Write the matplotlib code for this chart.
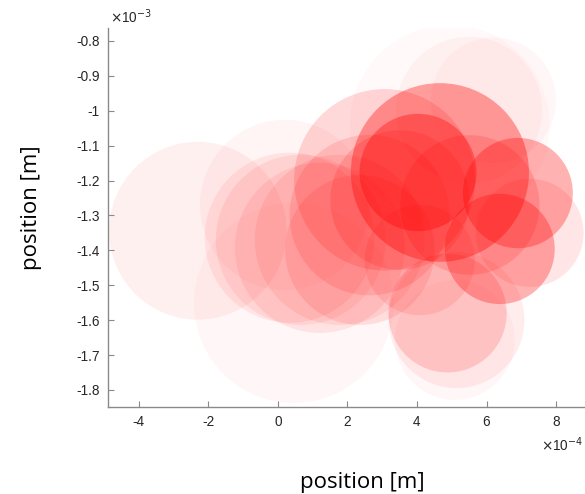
import matplotlib
matplotlib.use('Agg')
import matplotlib.pyplot as plt
from matplotlib.patches import Circle
from matplotlib.ticker import FixedLocator, FuncFormatter

# circle centres / radii in units of 1e-4 m, and opacity of each
cx = [-2.30, 0.46, 0.20, 0.34, 0.66, 1.21, 1.78, 3.07, 2.64, 4.66, 4.03, 3.51,
      6.90, 6.38, 4.88, 5.14, 5.09, 5.50, 6.20, 4.94, 7.24, 5.52, 2.36, 4.08]
cy = [-13.44, -15.51, -12.70, -13.64, -13.70, -13.93, -13.70, -11.98, -12.99, -11.77, -11.77, -12.56,
      -12.36, -13.96, -15.80, -16.00, -16.57, -9.98, -9.70, -10.41, -13.50, -12.70, -13.99, -14.28]
cr = [2.55, 2.87, 2.44, 2.44, 2.44, 2.44, 2.44, 2.60, 2.30, 2.56, 1.68, 2.00,
      1.58, 1.58, 1.70, 1.95, 1.72, 2.10, 1.80, 2.87, 1.55, 2.00, 2.15, 1.58]
ca = [0.06, 0.03, 0.04, 0.07, 0.07, 0.08, 0.08, 0.15, 0.12, 0.35, 0.35, 0.15,
      0.30, 0.30, 0.15, 0.07, 0.03, 0.035, 0.03, 0.025, 0.10, 0.15, 0.10, 0.10]
scale = 1e-4

xticks = [-4, -2, 0, 2, 4, 6, 8]            # x 1e-4
yticks = [-0.8, -0.9, -1.0, -1.1, -1.2, -1.3, -1.4, -1.5, -1.6, -1.7, -1.8]  # x 1e-3

W, H = 585, 494
fig = plt.figure(figsize=(W / 100, H / 100), dpi=100)
ax = fig.add_axes([108 / W, 1 - 407 / H, (W - 108) / W, (407 - 28) / H])

for x, y, r, a in zip(cx, cy, cr, ca):
    ax.add_patch(Circle((x * scale, y * scale), r * scale, facecolor=(1, 0, 0),
                        edgecolor='none', alpha=a))

ax.set_xlim(-4.88e-4, 8.83e-4)
ax.set_ylim(-18.49e-4, -7.63e-4)

ax.xaxis.set_major_locator(FixedLocator([v * 1e-4 for v in xticks]))
ax.yaxis.set_major_locator(FixedLocator([v * 1e-3 for v in yticks]))
ax.xaxis.set_major_formatter(FuncFormatter(lambda v, p: '%g' % round(v / 1e-4, 6)))
ax.yaxis.set_major_formatter(FuncFormatter(lambda v, p: '%g' % round(v / 1e-3, 6)))

gray = '#8a8a8a'
txt = '#262626'
for s in ['top', 'right']:
    ax.spines[s].set_visible(False)
for s in ['left', 'bottom']:
    ax.spines[s].set_color(gray)
    ax.spines[s].set_linewidth(1.0)
ax.tick_params(direction='in', length=4, width=0.8, color=gray, labelcolor=txt,
               labelsize=9.8, pad=6)
for lab in ax.get_xticklabels() + ax.get_yticklabels():
    lab.set_family('Liberation Sans')

fig.text(110 / W, 1 - 23 / H, r'$\times$10$^{-3}$', fontsize=9.8, color=txt,
         family='Liberation Sans', ha='left', va='baseline')
fig.text(583 / W, 1 - 451 / H, r'$\times$10$^{-4}$', fontsize=9.8, color=txt,
         family='Liberation Sans', ha='right', va='baseline')

fig.text(362 / W, 1 - 482 / H, 'position [m]', fontsize=16, family='Open Sans',
         color='black', ha='center', va='center')
fig.text(32 / W, 1 - 208 / H, 'position [m]', fontsize=16, family='Open Sans',
         color='black', ha='center', va='center', rotation=90)

fig.savefig('out.png', dpi=100)
